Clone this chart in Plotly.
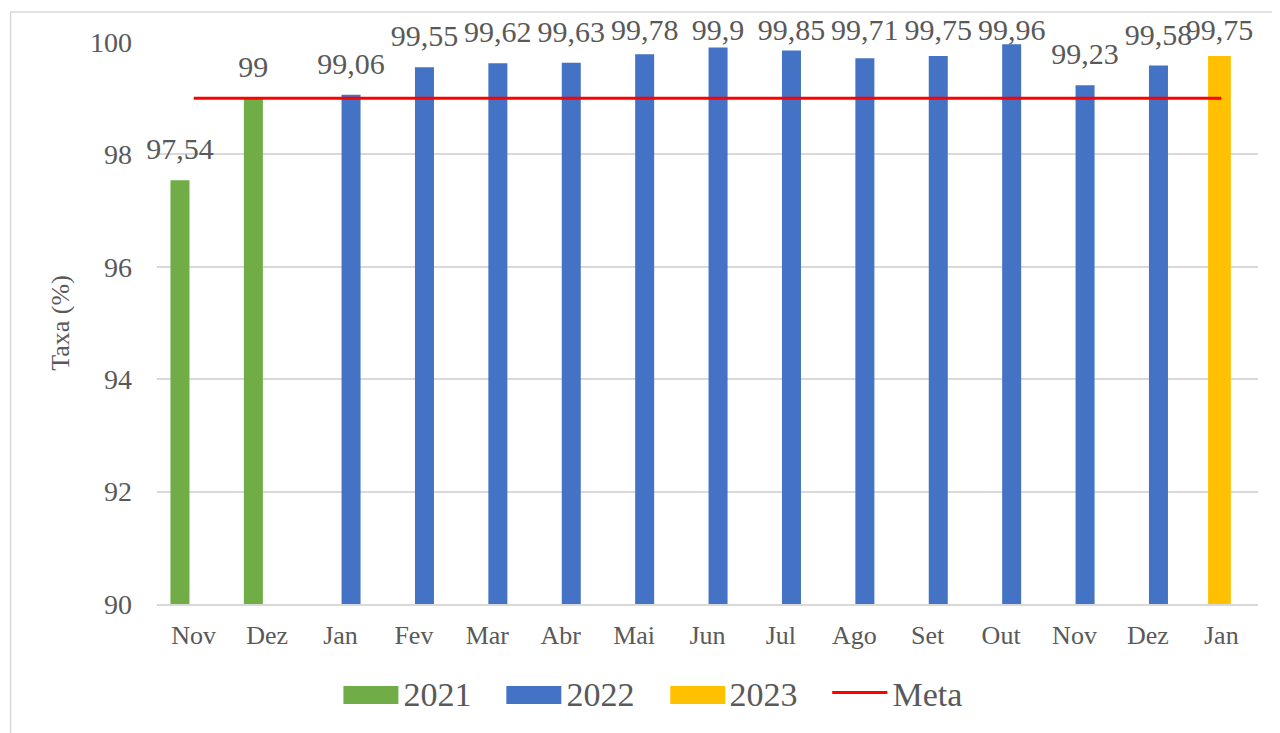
import plotly.graph_objects as go

# ---- data ----
months = ["Nov", "Dez", "Jan", "Fev", "Mar", "Abr", "Mai", "Jun",
          "Jul", "Ago", "Set", "Out", "Nov", "Dez", "Jan"]
idx = list(range(len(months)))

idx_2021 = [0, 1]
val_2021 = [97.54, 99]

idx_2022 = [2, 3, 4, 5, 6, 7, 8, 9, 10, 11, 12, 13]
val_2022 = [99.06, 99.55, 99.62, 99.63, 99.78, 99.9, 99.85, 99.71, 99.75, 99.96, 99.23, 99.58]

idx_2023 = [14]
val_2023 = [99.75]

meta_values = [99] * len(months)

y_ticks = [90, 92, 94, 96, 98, 100]

# ---- style ----
FONT = "Liberation Serif"
TXT = "#595959"
GREEN, BLUE, YELLOW, RED = "#70AD47", "#4472C4", "#FFC000", "#FF0000"
LABEL_CAP = 99.66   # data labels are kept inside the chart area (as Excel does)

series = [
    ("2021", idx_2021, val_2021, GREEN, -0.187, 0.259),
    ("2022", idx_2022, val_2022, BLUE, 0.144, 0.259),
    ("2023", idx_2023, val_2023, YELLOW, -0.025, 0.31),
]

def fmt(v):
    return ("%g" % v).replace(".", ",")

fig = go.Figure()
for name, xs, ys, col, shift, w in series:
    fig.add_trace(go.Bar(
        x=xs, y=ys, name=name, marker=dict(color=col, line=dict(width=0)),
        width=w, offset=shift - w / 2,
    ))

fig.add_trace(go.Scatter(
    x=idx, y=meta_values, name="Meta", mode="lines",
    line=dict(color=RED, width=3),
))

# data labels
for name, xs, ys, col, shift, w in series:
    fig.add_trace(go.Scatter(
        x=[x + shift for x in xs], y=[min(v, LABEL_CAP) for v in ys],
        mode="markers+text",
        marker=dict(size=20, color="rgba(0,0,0,0)"),
        text=[fmt(v) for v in ys], textposition="top center",
        textfont=dict(family=FONT, size=30, color=TXT),
        showlegend=False, cliponaxis=False, hoverinfo="skip",
    ))

# page body has an 8px margin, so the figure is placed at (8, 8)
W, H = 1264, 733
L, T = 148.5, 34
pw, ph = 1101.5, 562
R = W - L - pw
B = H - T - ph

def px(xp):  # page x -> paper
    return (xp - 8 - L) / pw

def py(yp):  # page y -> paper
    return (T + ph - (yp - 8)) / ph

# enlarged legend keys (Excel style)
legend_keys = []
for col, x0 in [(GREEN, 343), (BLUE, 506), (YELLOW, 670)]:
    legend_keys.append(dict(
        type="rect", xref="paper", yref="paper",
        x0=px(x0), x1=px(x0 + 55), y0=py(704), y1=py(686),
        fillcolor=col, line=dict(width=0), layer="above",
    ))
legend_keys.append(dict(
    type="line", xref="paper", yref="paper",
    x0=px(832), x1=px(870), y0=py(692.5), y1=py(692.5),
    line=dict(color=RED, width=3), layer="above",
))

fig.update_layout(
    width=W, height=H,
    margin=dict(l=L, r=R, t=T, b=B, pad=0),
    paper_bgcolor="white", plot_bgcolor="white",
    font=dict(family=FONT, color=TXT, size=26),
    barmode="overlay",
    showlegend=True,
    legend=dict(
        orientation="h", x=px(363), xanchor="left",
        y=py(693), yanchor="middle",
        bgcolor="rgba(0,0,0,0)",
        font=dict(family=FONT, size=34, color=TXT),
        entrywidth=118, entrywidthmode="pixels",
        traceorder="normal",
    ),
    xaxis=dict(
        range=[-0.5, len(months) - 0.5],
        tickvals=idx, ticktext=months,
        showgrid=False, zeroline=False,
        showline=True, linecolor="#D9D9D9", linewidth=1.5,
        ticks="", tickfont=dict(family=FONT, size=26, color=TXT),
        ticklabelstandoff=7,
    ),
    yaxis=dict(
        range=[90, 100], tickvals=y_ticks,
        showgrid=True, gridcolor="#D9D9D9", gridwidth=1.5,
        zeroline=False, showline=False, ticks="",
        tickfont=dict(family=FONT, size=28, color=TXT),
        ticklabelstandoff=24,
        title=dict(text="Taxa (%)", font=dict(family=FONT, size=26, color=TXT), standoff=12),
    ),
    shapes=[dict(
        type="rect", xref="paper", yref="paper",
        x0=px(10), x1=px(1310), y0=py(760), y1=py(12),
        line=dict(color="#D9D9D9", width=1.5), fillcolor="rgba(0,0,0,0)",
        layer="below",
    )] + legend_keys,
)

fig.write_html("out.html")
